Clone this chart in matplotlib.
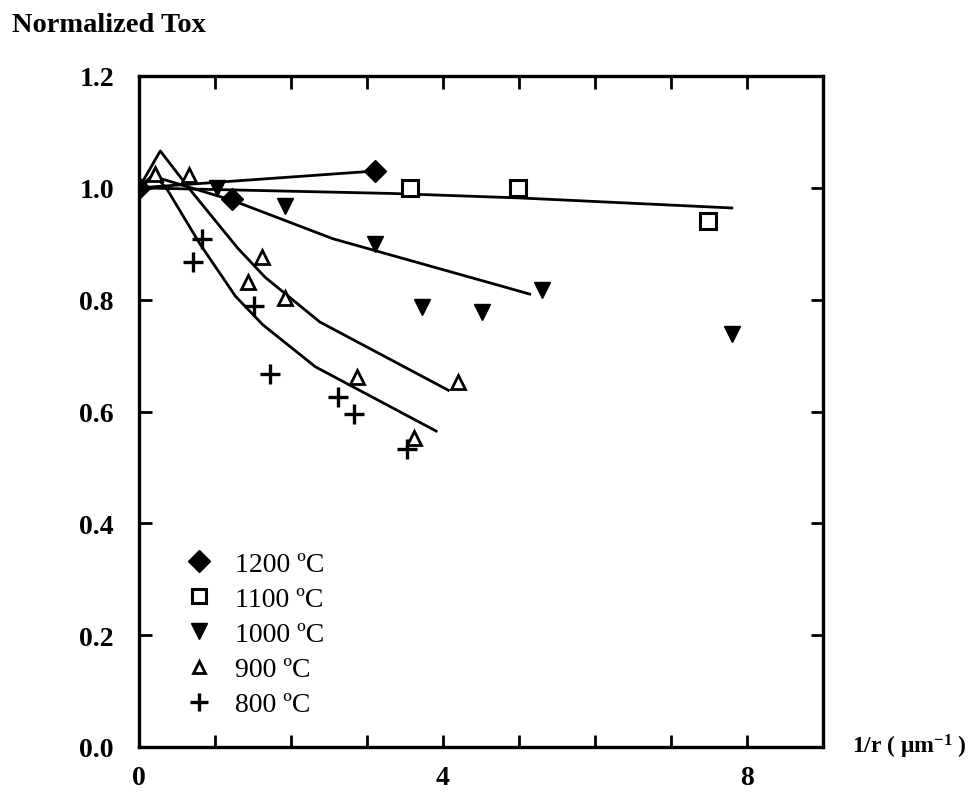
import matplotlib
matplotlib.use("Agg")
import matplotlib.pyplot as plt
from matplotlib.lines import Line2D

plt.rcParams['font.family'] = ['Liberation Serif', 'DejaVu Serif']

# ---- data ----
x_1200 = [0.0, 1.22, 3.10]
y_1200 = [1.00, 0.980, 1.030]
fit_x_1200 = [0.0, 3.10]
fit_y_1200 = [1.00, 1.030]

x_1100 = [3.57, 4.99, 7.49]
y_1100 = [1.000, 1.000, 0.941]
fit_x_1100 = [0.0, 3.3, 5.0, 7.8]
fit_y_1100 = [1.000, 0.990, 0.982, 0.964]

x_1000 = [1.02, 1.92, 3.10, 3.72, 4.51, 5.30, 7.80]
y_1000 = [1.000, 0.968, 0.900, 0.787, 0.778, 0.818, 0.739]
fit_x_1000 = [0.0, 0.20, 1.22, 2.55, 4.75, 5.14]
fit_y_1000 = [1.000, 1.020, 0.978, 0.909, 0.825, 0.810]

x_900 = [0.21, 0.66, 1.43, 1.62, 1.92, 2.87, 3.62, 4.20]
y_900 = [1.025, 1.023, 0.832, 0.877, 0.803, 0.662, 0.553, 0.653]
fit_x_900 = [0.0, 0.28, 0.67, 1.30, 1.66, 2.38, 4.07]
fit_y_900 = [1.000, 1.066, 0.997, 0.892, 0.840, 0.760, 0.638]

x_800 = [0.71, 0.83, 1.51, 1.72, 2.62, 2.83, 3.52]
y_800 = [0.868, 0.909, 0.789, 0.667, 0.626, 0.596, 0.533]
fit_x_800 = [0.0, 0.20, 0.38, 0.80, 1.27, 1.63, 2.32, 3.91]
fit_y_800 = [1.000, 1.025, 0.995, 0.900, 0.806, 0.755, 0.680, 0.565]

labels = ['1200 ºC', '1100 ºC', '1000 ºC', '900 ºC', '800 ºC']
x_ticks = list(range(0, 10))
x_ticklabels = ['0', '', '', '', '4', '', '', '', '8', '']
y_ticks = [0.0, 0.2, 0.4, 0.6, 0.8, 1.0, 1.2]
y_ticklabels = ['0.0', '0.2', '0.4', '0.6', '0.8', '1.0', '1.2']

# ---- figure ----
fig = plt.figure(figsize=(9.68, 8.12), dpi=100)
ax = fig.add_axes([139/968, 1 - 748/812, (823-139)/968, (748-77)/812])

lw = 2.0
for fx, fy in [(fit_x_1200, fit_y_1200), (fit_x_1100, fit_y_1100),
               (fit_x_1000, fit_y_1000), (fit_x_900, fit_y_900),
               (fit_x_800, fit_y_800)]:
    ax.plot(fx, fy, color='black', lw=lw, zorder=2)

st_1200 = dict(marker='D', ms=11, mfc='black', mec='black', mew=1, ls='none')
st_1100 = dict(marker='s', ms=11, mfc='white', mec='black', mew=2.2, ls='none')
st_1000 = dict(marker='v', ms=12, mfc='black', mec='black', mew=1, ls='none')
st_900 = dict(marker='^', ms=10, mfc='white', mec='black', mew=2.0, ls='none')
st_800 = dict(marker='+', ms=14, mfc='black', mec='black', mew=2.4, ls='none')

ax.plot(x_1200, y_1200, zorder=3, **st_1200)
ax.plot(x_1100, y_1100, zorder=3, **st_1100)
ax.plot(x_1000, y_1000, zorder=3, **st_1000)
ax.plot(x_900, y_900, zorder=3, **st_900)
ax.plot(x_800, y_800, zorder=3, **st_800)

ax.set_xlim(0, 9)
ax.set_ylim(0, 1.2)

ax.set_xticks(x_ticks)
ax.set_xticklabels(x_ticklabels, fontsize=20, fontweight='bold')
ax.set_yticks(y_ticks)
ax.set_yticklabels(y_ticklabels, fontsize=20, fontweight='bold')
ax.tick_params(axis='both', direction='in', length=9, width=2,
               top=True, right=True)
ax.tick_params(axis='x', pad=13)
ax.tick_params(axis='y', pad=18)
for sp in ax.spines.values():
    sp.set_linewidth(2.4)

handles = [Line2D([], [], **st_1200), Line2D([], [], **st_1100),
           Line2D([], [], **st_1000), Line2D([], [], **st_900),
           Line2D([], [], **st_800)]
handles[1].set_markersize(10)
handles[2].set_markersize(11)
handles[3].set_markersize(9)
handles[4].set_markersize(13)
ax.legend(handles, labels, loc='lower left', bbox_to_anchor=(0.039, 0.015),
          frameon=False, fontsize=20, handlelength=1.0, handletextpad=0.8,
          labelspacing=0.35, borderpad=0.2)

fig.text(12/968, 1 - 25/812, 'Normalized Tox', fontsize=20.5, fontweight='bold',
         ha='left', va='center')
fig.text(852/968, 1 - 747/812, r'1/r ( $\mathregular{\mu m^{-1}}$ )', fontsize=17,
         fontweight='bold', ha='left', va='center')

fig.savefig('out.png', dpi=100)
